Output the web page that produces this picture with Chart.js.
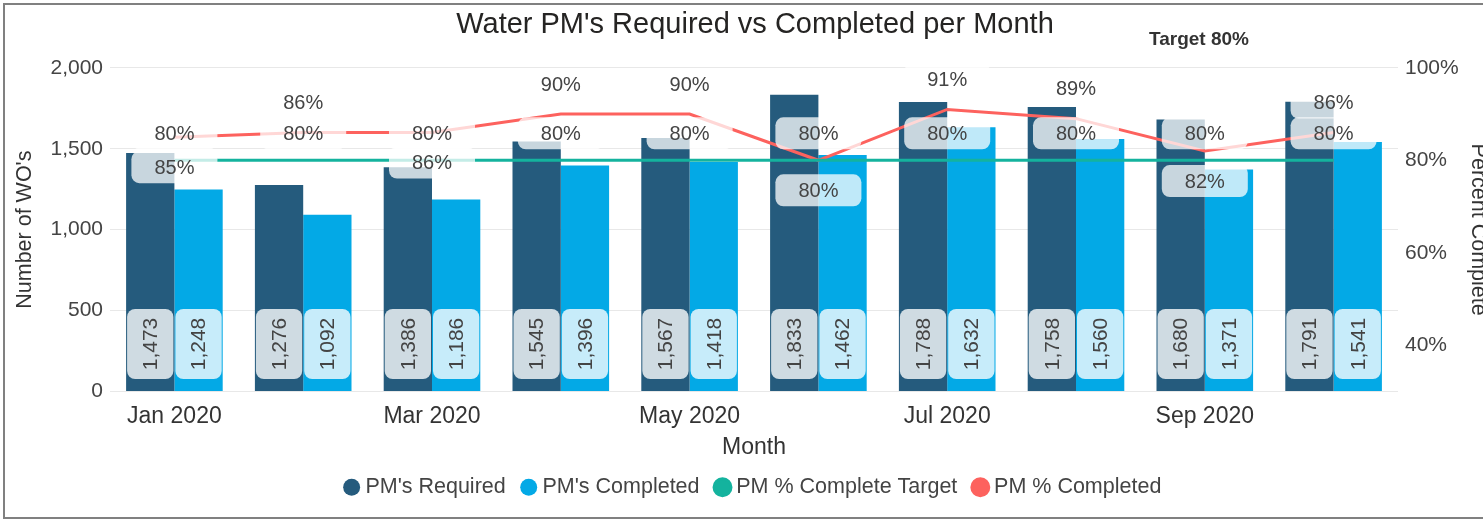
<!DOCTYPE html>
<html>
<head>
<meta charset="utf-8">
<script src="https://cdn.jsdelivr.net/npm/chart.js@4.4.1/dist/chart.umd.min.js"></script>
<style>
body { margin: 0; background: #fff; overflow: hidden; }
#wrap { position: relative; width: 1483px; height: 519px; overflow: hidden; }
#frame { position: absolute; left: 3px; top: 3px; width: 1490px; height: 516px; border: 2px solid #808080; border-right: none; box-sizing: border-box; pointer-events: none; }
</style>
</head>
<body>
<div id="wrap">
<canvas id="chart" width="1483" height="519"></canvas>
<div id="frame"></div>
</div>
<script>
const months = ["Jan 2020", "Feb 2020", "Mar 2020", "Apr 2020", "May 2020",
    "Jun 2020", "Jul 2020", "Aug 2020", "Sep 2020", "Oct 2020"];

const pmRequired = [1473, 1276, 1386, 1545, 1567, 1833, 1788, 1758, 1680, 1791];
const pmCompleted = [1248, 1092, 1186, 1396, 1418, 1462, 1632, 1560, 1371, 1541];

const pctTarget = [80, 80, 80, 80, 80, 80, 80, 80, 80, 80];
const pctCompleted = [85, 86, 86, 90, 90, 80, 91, 89, 82, 86];

const pctTicks = [40, 60, 80, 100];

// which side of the line each % completed label sits on (1 below, -1 above)
const pctLabelSide = [1, -1, 1, -1, -1, 1, -1, -1, 1, -1];

const FONT = "'Liberation Sans', Arial, sans-serif";

function roundBox(ctx, x, y, w, h, r, fill) {
    ctx.beginPath();
    ctx.roundRect(x, y, w, h, r);
    ctx.fillStyle = fill;
    ctx.fill();
}

const boxLabels = {
    id: "boxLabels",
    afterDatasetsDraw(chart) {
        const ctx = chart.ctx;
        ctx.save();
        ctx.textAlign = "center";
        ctx.textBaseline = "middle";

        // value labels at the foot of each bar
        [0, 1].forEach(di => {
            const values = chart.data.datasets[di].data;
            chart.getDatasetMeta(di).data.forEach((bar, i) => {
                const w = bar.width - 2;
                const cy = bar.base - 47;
                roundBox(ctx, bar.x - w / 2, cy - 35, w, 70, 8, "rgba(255,255,255,0.78)");
                ctx.save();
                ctx.translate(bar.x, cy);
                ctx.rotate(-Math.PI / 2);
                ctx.fillStyle = "#444";
                ctx.font = "21px " + FONT;
                ctx.fillText(values[i].toLocaleString("en-US"), 0, 1);
                ctx.restore();
            });
        });

        // percent labels
        function pctLabel(x, y, v) {
            roundBox(ctx, x - 43, y - 16, 86, 32, 8, "rgba(255,255,255,0.75)");
            ctx.fillStyle = "#444";
            ctx.font = "20px " + FONT;
            ctx.fillText(v + "%", x, y + 1);
        }
        const tMeta = chart.getDatasetMeta(2);
        const pMeta = chart.getDatasetMeta(3);
        tMeta.data.forEach((pt, i) => {
            pctLabel(pt.x, pt.y - 27, pctTarget[i]);
            const p = pMeta.data[i];
            pctLabel(p.x, p.y + pctLabelSide[i] * 30, pctCompleted[i]);
        });

        ctx.fillStyle = "#333";
        ctx.font = "bold 19px " + FONT;
        ctx.fillText("Target 80%", 1199, 40);
        ctx.restore();
    }
};

new Chart(
document.getElementById("chart"),
{
    type: "bar",
    data: {
        labels: months,
        datasets: [{
            label: "PM's Required",
            data: pmRequired,
            backgroundColor: "#255B7D",
            yAxisID: "y",
            order: 2,
            categoryPercentage: 0.75,
            barPercentage: 1.0
        }, {
            label: "PM's Completed",
            data: pmCompleted,
            backgroundColor: "#03A9E6",
            yAxisID: "y",
            order: 2,
            categoryPercentage: 0.75,
            barPercentage: 1.0
        }, {
            type: "line",
            label: "PM % Complete Target",
            data: pctTarget,
            borderColor: "#14B39E",
            backgroundColor: "#14B39E",
            borderWidth: 3,
            pointRadius: 0,
            yAxisID: "y1",
            order: 1
        }, {
            type: "line",
            label: "PM % Completed",
            data: pctCompleted,
            borderColor: "#FD625E",
            backgroundColor: "#FD625E",
            borderWidth: 3,
            pointRadius: 0,
            yAxisID: "y1",
            order: 1
        }]
    },
    options: {
        responsive: false,
        animation: false,
        devicePixelRatio: 1,
        // right padding pushed past the canvas so title and legend centre on the plot
        layout: { padding: { left: 0, right: -27, top: 0, bottom: 11 } },
        plugins: {
            title: {
                display: true,
                text: "Water PM's Required vs Completed per Month",
                color: "#252423",
                font: { family: FONT, size: 29, weight: "normal" },
                padding: { top: 8, bottom: 25 }
            },
            legend: {
                position: "bottom",
                labels: {
                    usePointStyle: true,
                    pointStyle: "circle",
                    boxHeight: 12,
                    boxWidth: 6,
                    color: "#444",
                    padding: 20,
                    font: { family: FONT, size: 21.5 },
                    sort: (a, b) => a.datasetIndex - b.datasetIndex
                }
            },
            tooltip: { enabled: false }
        },
        scales: {
            x: {
                grid: { display: false, drawTicks: false },
                border: { display: false },
                ticks: {
                    color: "#333",
                    font: { family: FONT, size: 23 },
                    padding: 11,
                    autoSkip: false,
                    maxRotation: 0,
                    callback: function(value, index) {
                        return index % 2 === 0 ? this.getLabelForValue(value) : "";
                    }
                },
                title: {
                    display: true,
                    text: "Month",
                    color: "#333",
                    font: { family: FONT, size: 23 },
                    padding: { top: 0, bottom: -5 }
                },
                afterFit: scale => { scale.height = 65; }
            },
            y: {
                position: "left",
                min: 0,
                max: 2000,
                grid: { color: "#E8E8E8", drawTicks: false },
                border: { display: false },
                ticks: {
                    stepSize: 500,
                    color: "#444",
                    padding: 7,
                    font: { family: FONT, size: 21 }
                },
                title: {
                    display: true,
                    text: "Number of WO's",
                    color: "#333",
                    font: { family: FONT, size: 21.5 },
                    padding: { top: 12, bottom: 0 }
                },
                afterFit: scale => { scale.width = 110; }
            },
            y1: {
                position: "right",
                min: 30,
                max: 100,
                grid: { display: false, drawTicks: false },
                border: { display: false },
                afterBuildTicks: scale => {
                    scale.ticks = pctTicks.map(v => ({ value: v }));
                },
                ticks: {
                    color: "#444",
                    padding: 7,
                    font: { family: FONT, size: 21 },
                    callback: v => v + "%"
                },
                title: {
                    display: true,
                    text: "Percent Complete",
                    color: "#333",
                    font: { family: FONT, size: 21.5 },
                    padding: { top: 19, bottom: 0 }
                },
                afterFit: scale => { scale.width = 112; }
            }
        }
    },
    plugins: [boxLabels]
}
);
</script>
</body>
</html>
